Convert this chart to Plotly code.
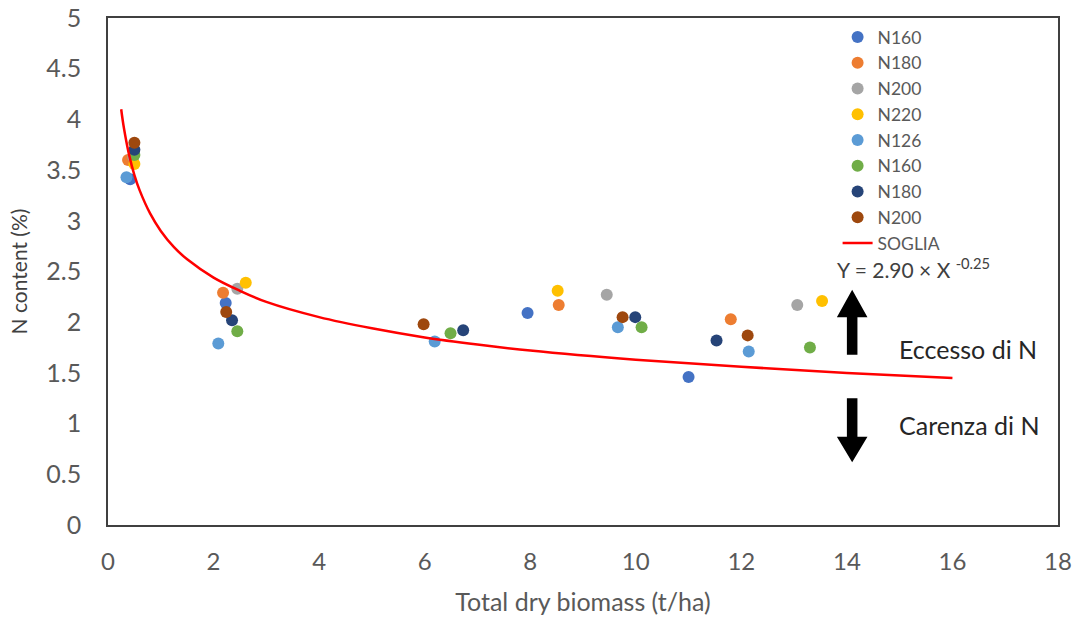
import plotly.graph_objects as go

# ---- data ----
series_names = ["N160", "N180", "N200", "N220", "N126", "N160", "N180", "N200"]
series_colors = ["#4472C4", "#ED7D31", "#A5A5A5", "#FFC000",
                 "#5B9BD5", "#70AD47", "#264478", "#9E480E"]

n160a_x = [0.42, 2.23, 7.95, 11.00]
n160a_y = [3.41, 2.19, 2.09, 1.46]
n180a_x = [0.38, 2.18, 8.54, 11.80]
n180a_y = [3.60, 2.29, 2.17, 2.03]
n200a_x = [0.48, 2.45, 9.45, 13.06]
n200a_y = [3.63, 2.33, 2.27, 2.17]
n220_x = [0.50, 2.61, 8.52, 13.53]
n220_y = [3.56, 2.39, 2.31, 2.21]
n126_x = [0.35, 2.09, 6.19, 9.66, 12.14]
n126_y = [3.43, 1.79, 1.81, 1.95, 1.71]
n160b_x = [0.50, 2.45, 6.49, 10.11, 13.30]
n160b_y = [3.65, 1.91, 1.89, 1.95, 1.75]
n180b_x = [0.50, 2.35, 6.73, 9.99, 11.53]
n180b_y = [3.70, 2.02, 1.92, 2.05, 1.82]
n200b_x = [0.50, 2.24, 5.98, 9.75, 12.12]
n200b_y = [3.77, 2.10, 1.98, 2.05, 1.87]

soglia_x = [0.25, 0.3, 0.4, 0.5, 0.6, 0.8, 1, 1.25, 1.5, 2, 2.5, 3, 4, 5, 6, 7, 8, 10, 12, 14, 16]
soglia_y = [4.10, 3.92, 3.65, 3.45, 3.30, 3.07, 2.90, 2.74, 2.62, 2.44, 2.31, 2.20, 2.05,
            1.94, 1.85, 1.78, 1.72, 1.63, 1.56, 1.50, 1.45]

x_ticks = [0, 2, 4, 6, 8, 10, 12, 14, 16, 18]
y_ticks = [0, 0.5, 1, 1.5, 2, 2.5, 3, 3.5, 4, 4.5, 5]
y_tick_text = ["0", "0.5", "1", "1.5", "2", "2.5", "3", "3.5", "4", "4.5", "5"]

xs = [n160a_x, n180a_x, n200a_x, n220_x, n126_x, n160b_x, n180b_x, n200b_x]
ys = [n160a_y, n180a_y, n200a_y, n220_y, n126_y, n160b_y, n180b_y, n200b_y]

FONT = "Lato, 'Open Sans', sans-serif"
GRAY = "#595959"

fig = go.Figure()
for name, col, x, y in zip(series_names, series_colors, xs, ys):
    fig.add_trace(go.Scatter(x=x, y=y, mode="markers", name=name,
                             marker=dict(color=col, size=12, line=dict(width=0))))

fig.add_trace(go.Scatter(x=soglia_x, y=soglia_y, mode="lines", name="SOGLIA",
                         line=dict(color="#FF0000", width=2.5, shape="spline")))

# block arrows
def arrow(xc, y0, yb, yt, hw, sw):
    return (f"M {xc-sw} {y0} L {xc-sw} {yb} L {xc-hw} {yb} L {xc} {yt} "
            f"L {xc+hw} {yb} L {xc+sw} {yb} L {xc+sw} {y0} Z")

fig.add_shape(type="path", path=arrow(14.1, 1.68, 2.05, 2.32, 0.29, 0.10),
              fillcolor="black", line=dict(width=0), xref="x", yref="y")
fig.add_shape(type="path", path=arrow(14.1, 1.25, 0.87, 0.62, 0.29, 0.10),
              fillcolor="black", line=dict(width=0), xref="x", yref="y")

fig.add_annotation(x=13.78, y=2.53, xref="x", yref="y", showarrow=False, xanchor="left",
                   text="Y = 2.90 × X <sup>-0.25</sup>",
                   font=dict(family=FONT, size=21, color="#404040"))
fig.add_annotation(x=14.95, y=1.74, xref="x", yref="y", showarrow=False, xanchor="left",
                   text="Eccesso di N", font=dict(family=FONT, size=25, color="#262626"))
fig.add_annotation(x=14.95, y=0.99, xref="x", yref="y", showarrow=False, xanchor="left",
                   text="Carenza di N", font=dict(family=FONT, size=25, color="#262626"))

fig.update_layout(
    width=1078, height=620,
    margin=dict(l=108, r=20, t=18, b=95, autoexpand=False),
    paper_bgcolor="white", plot_bgcolor="white",
    font=dict(family=FONT, size=25, color=GRAY),
    showlegend=True,
    legend=dict(x=0.768, y=0.998, xanchor="left", yanchor="top",
                bgcolor="rgba(0,0,0,0)", font=dict(family=FONT, size=17.5, color=GRAY),
                itemsizing="trace", tracegroupgap=0),
    xaxis=dict(range=[0, 18], tickvals=x_ticks, showgrid=False, zeroline=False,
               showline=True, linecolor="#404040", linewidth=1.5, mirror=True,
               ticks="", ticklabelstandoff=14, tickfont=dict(size=24), automargin=False,
               title=dict(text="Total dry biomass (t/ha)", standoff=20,
                          font=dict(family=FONT, size=25, color=GRAY))),
    yaxis=dict(range=[0, 5], tickvals=y_ticks, ticktext=y_tick_text, showgrid=False,
               zeroline=False, showline=True, linecolor="#404040", linewidth=1.5,
               mirror=True, ticks="", ticklabelstandoff=20, tickfont=dict(size=25),
               automargin=False,
               title=dict(text="N content (%)", standoff=13,
                          font=dict(family=FONT, size=21, color="#404040"))),
)

fig.write_html("out.html")
